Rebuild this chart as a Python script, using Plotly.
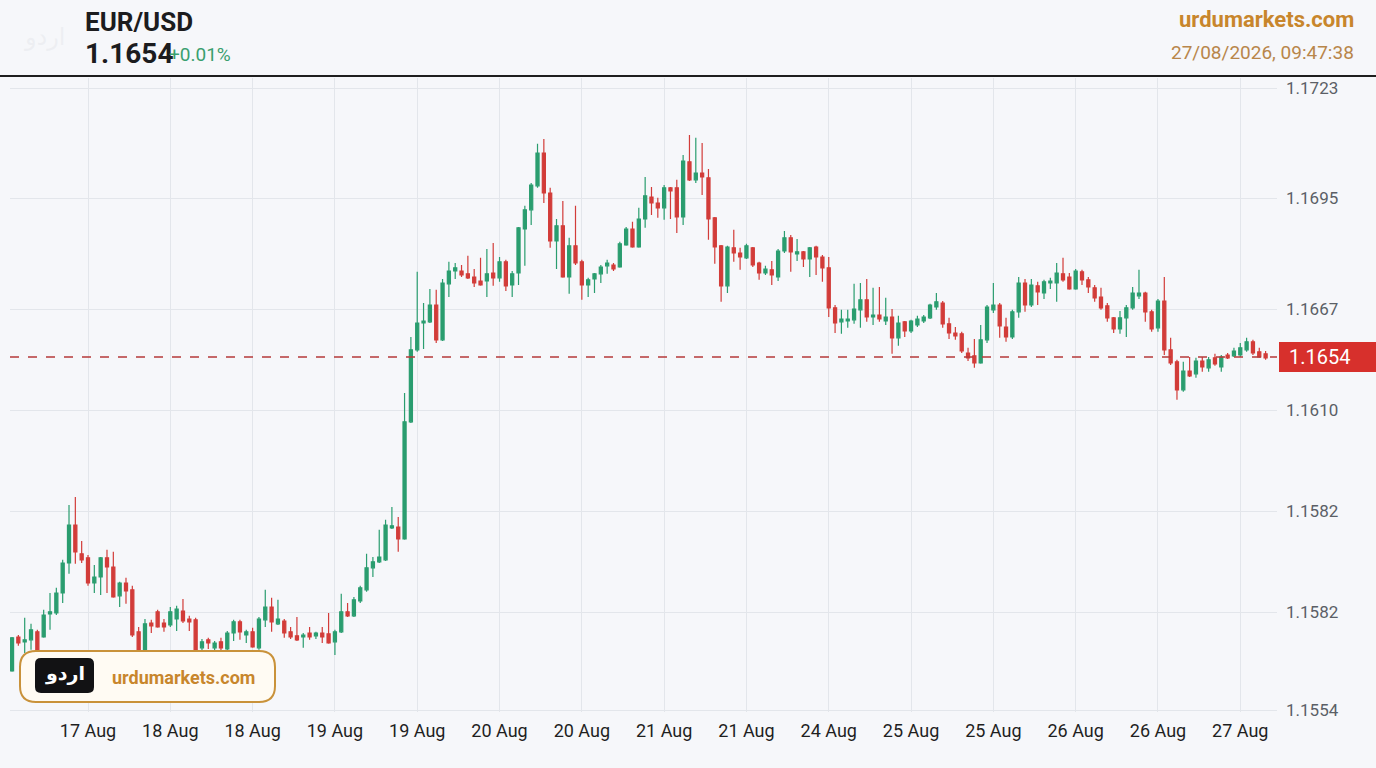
import plotly.graph_objects as go

# EUR/USD hourly candles, 17 Aug - 27 Aug
opens = [
    1.15755, 1.15840, 1.15828, 1.15833, 1.15853, 1.15840, 1.15898, 1.15900, 1.15950, 1.16025,
    1.16120, 1.16048, 1.16038, 1.15975, 1.15990, 1.16038, 1.16015, 1.15943, 1.15975, 1.15958,
    1.15853, 1.15795, 1.15875, 1.15903, 1.15875, 1.15870, 1.15885, 1.15905, 1.15885, 1.15883,
    1.15813, 1.15833, 1.15813, 1.15828, 1.15810, 1.15850, 1.15878, 1.15845, 1.15853, 1.15813,
    1.15883, 1.15915, 1.15873, 1.15880, 1.15853, 1.15843, 1.15840, 1.15850, 1.15843, 1.15850,
    1.15848, 1.15828, 1.15853, 1.15903, 1.15893, 1.15930, 1.15958, 1.16013, 1.16028, 1.16033,
    1.16113, 1.16115, 1.16085, 1.16378, 1.16558, 1.16625, 1.16628, 1.16670, 1.16583, 1.16723,
    1.16755, 1.16755, 1.16748, 1.16740, 1.16730, 1.16730, 1.16750, 1.16738, 1.16778, 1.16720,
    1.16750, 1.16860, 1.16908, 1.16968, 1.17050, 1.16950, 1.16830, 1.16868, 1.16740, 1.16818,
    1.16778, 1.16720, 1.16735, 1.16748, 1.16768, 1.16770, 1.16765, 1.16820, 1.16860, 1.16815,
    1.16885, 1.16940, 1.16925, 1.16913, 1.16963, 1.16963, 1.16890, 1.17028, 1.16983, 1.17000,
    1.16988, 1.16888, 1.16818, 1.16718, 1.16813, 1.16800, 1.16788, 1.16813, 1.16775, 1.16750,
    1.16758, 1.16740, 1.16805, 1.16838, 1.16798, 1.16803, 1.16785, 1.16815, 1.16790, 1.16763,
    1.16663, 1.16628, 1.16630, 1.16633, 1.16658, 1.16683, 1.16640, 1.16645, 1.16630, 1.16640,
    1.16588, 1.16628, 1.16605, 1.16620, 1.16630, 1.16638, 1.16665, 1.16675, 1.16623, 1.16600,
    1.16598, 1.16550, 1.16543, 1.16525, 1.16583, 1.16658, 1.16670, 1.16615, 1.16590, 1.16653,
    1.16725, 1.16670, 1.16718, 1.16700, 1.16725, 1.16725, 1.16748, 1.16740, 1.16710, 1.16753,
    1.16733, 1.16713, 1.16690, 1.16668, 1.16638, 1.16610, 1.16638, 1.16663, 1.16693, 1.16700,
    1.16653, 1.16613, 1.16680, 1.16558, 1.16528, 1.16458, 1.16505, 1.16498, 1.16530, 1.16513,
    1.16538, 1.16515, 1.16545, 1.16543, 1.16545, 1.16558, 1.16578, 1.16553, 1.16548,
]
highs = [
    1.15840, 1.15845, 1.15888, 1.15873, 1.15858, 1.15908, 1.15950, 1.15963, 1.16033, 1.16170,
    1.16190, 1.16080, 1.16045, 1.16020, 1.16040, 1.16058, 1.16053, 1.15978, 1.15988, 1.15968,
    1.15865, 1.15885, 1.15883, 1.15908, 1.15885, 1.15915, 1.15918, 1.15935, 1.15893, 1.15888,
    1.15835, 1.15838, 1.15830, 1.15838, 1.15855, 1.15883, 1.15883, 1.15858, 1.15863, 1.15890,
    1.15958, 1.15938, 1.15933, 1.15885, 1.15865, 1.15890, 1.15850, 1.15865, 1.15853, 1.15865,
    1.15900, 1.15858, 1.15948, 1.15925, 1.15940, 1.15968, 1.16048, 1.16040, 1.16108, 1.16133,
    1.16165, 1.16140, 1.16450, 1.16590, 1.16753, 1.16675, 1.16710, 1.16708, 1.16735, 1.16778,
    1.16775, 1.16770, 1.16793, 1.16760, 1.16788, 1.16810, 1.16825, 1.16790, 1.16783, 1.16755,
    1.16865, 1.16918, 1.16975, 1.17073, 1.17085, 1.16963, 1.16885, 1.16930, 1.16838, 1.16918,
    1.16783, 1.16738, 1.16750, 1.16770, 1.16783, 1.16775, 1.16828, 1.16865, 1.16878, 1.16913,
    1.16990, 1.16965, 1.16938, 1.16970, 1.16965, 1.16983, 1.17045, 1.17095, 1.17088, 1.17075,
    1.17010, 1.16890, 1.16820, 1.16818, 1.16858, 1.16813, 1.16823, 1.16815, 1.16778, 1.16768,
    1.16780, 1.16810, 1.16855, 1.16845, 1.16835, 1.16805, 1.16815, 1.16818, 1.16795, 1.16790,
    1.16670, 1.16658, 1.16658, 1.16723, 1.16725, 1.16735, 1.16713, 1.16715, 1.16688, 1.16660,
    1.16643, 1.16630, 1.16633, 1.16643, 1.16645, 1.16673, 1.16700, 1.16680, 1.16638, 1.16615,
    1.16603, 1.16563, 1.16585, 1.16620, 1.16670, 1.16725, 1.16675, 1.16638, 1.16658, 1.16740,
    1.16735, 1.16735, 1.16728, 1.16733, 1.16738, 1.16775, 1.16788, 1.16750, 1.16760, 1.16758,
    1.16740, 1.16720, 1.16713, 1.16675, 1.16640, 1.16655, 1.16670, 1.16715, 1.16758, 1.16703,
    1.16658, 1.16685, 1.16740, 1.16588, 1.16533, 1.16528, 1.16540, 1.16538, 1.16540, 1.16540,
    1.16548, 1.16545, 1.16550, 1.16563, 1.16575, 1.16588, 1.16583, 1.16563, 1.16555,
]
lows = [
    1.15753, 1.15818, 1.15800, 1.15808, 1.15783, 1.15838, 1.15858, 1.15895, 1.15925, 1.15998,
    1.16023, 1.16025, 1.15968, 1.15950, 1.15945, 1.15950, 1.15938, 1.15915, 1.15923, 1.15840,
    1.15770, 1.15783, 1.15850, 1.15863, 1.15853, 1.15865, 1.15855, 1.15875, 1.15855, 1.15778,
    1.15795, 1.15810, 1.15795, 1.15795, 1.15795, 1.15830, 1.15833, 1.15825, 1.15813, 1.15808,
    1.15865, 1.15853, 1.15870, 1.15838, 1.15835, 1.15830, 1.15813, 1.15833, 1.15835, 1.15825,
    1.15823, 1.15795, 1.15850, 1.15890, 1.15890, 1.15925, 1.15953, 1.15990, 1.16025, 1.16030,
    1.16110, 1.16053, 1.16083, 1.16375, 1.16553, 1.16560, 1.16625, 1.16575, 1.16580, 1.16690,
    1.16735, 1.16740, 1.16735, 1.16715, 1.16718, 1.16690, 1.16718, 1.16728, 1.16705, 1.16690,
    1.16720, 1.16768, 1.16870, 1.16963, 1.16925, 1.16813, 1.16760, 1.16738, 1.16698, 1.16770,
    1.16683, 1.16690, 1.16700, 1.16725, 1.16748, 1.16755, 1.16763, 1.16818, 1.16813, 1.16813,
    1.16863, 1.16895, 1.16888, 1.16883, 1.16885, 1.16850, 1.16870, 1.16980, 1.16975, 1.16945,
    1.16833, 1.16773, 1.16678, 1.16700, 1.16778, 1.16758, 1.16785, 1.16765, 1.16733, 1.16745,
    1.16720, 1.16730, 1.16800, 1.16753, 1.16780, 1.16765, 1.16740, 1.16745, 1.16728, 1.16640,
    1.16600, 1.16598, 1.16613, 1.16623, 1.16613, 1.16628, 1.16620, 1.16628, 1.16620, 1.16548,
    1.16568, 1.16590, 1.16600, 1.16615, 1.16625, 1.16635, 1.16658, 1.16613, 1.16585, 1.16583,
    1.16550, 1.16530, 1.16513, 1.16523, 1.16575, 1.16650, 1.16588, 1.16578, 1.16585, 1.16638,
    1.16653, 1.16665, 1.16670, 1.16685, 1.16710, 1.16678, 1.16728, 1.16708, 1.16708, 1.16720,
    1.16700, 1.16678, 1.16658, 1.16628, 1.16600, 1.16598, 1.16590, 1.16658, 1.16685, 1.16628,
    1.16603, 1.16603, 1.16545, 1.16520, 1.16433, 1.16453, 1.16490, 1.16488, 1.16503, 1.16503,
    1.16518, 1.16503, 1.16535, 1.16540, 1.16540, 1.16553, 1.16545, 1.16538, 1.16533,
]
closes = [
    1.15838, 1.15825, 1.15833, 1.15858, 1.15795, 1.15895, 1.15903, 1.15950, 1.16025, 1.16120,
    1.16053, 1.16033, 1.15975, 1.15990, 1.16038, 1.16015, 1.15940, 1.15975, 1.15955, 1.15845,
    1.15788, 1.15873, 1.15868, 1.15865, 1.15865, 1.15903, 1.15910, 1.15880, 1.15878, 1.15790,
    1.15828, 1.15825, 1.15825, 1.15813, 1.15850, 1.15878, 1.15853, 1.15853, 1.15815, 1.15885,
    1.15915, 1.15878, 1.15885, 1.15850, 1.15840, 1.15833, 1.15845, 1.15840, 1.15850, 1.15840,
    1.15825, 1.15853, 1.15903, 1.15893, 1.15933, 1.15963, 1.16013, 1.16028, 1.16040, 1.16120,
    1.16118, 1.16085, 1.16378, 1.16558, 1.16625, 1.16630, 1.16670, 1.16583, 1.16725, 1.16755,
    1.16763, 1.16745, 1.16738, 1.16725, 1.16720, 1.16748, 1.16738, 1.16778, 1.16718, 1.16748,
    1.16863, 1.16908, 1.16970, 1.17050, 1.16950, 1.16830, 1.16868, 1.16740, 1.16818, 1.16775,
    1.16720, 1.16733, 1.16748, 1.16765, 1.16775, 1.16760, 1.16823, 1.16860, 1.16815, 1.16885,
    1.16943, 1.16925, 1.16913, 1.16963, 1.16955, 1.16890, 1.17030, 1.16983, 1.17000, 1.16990,
    1.16885, 1.16815, 1.16718, 1.16815, 1.16800, 1.16790, 1.16818, 1.16770, 1.16750, 1.16760,
    1.16745, 1.16805, 1.16838, 1.16803, 1.16803, 1.16785, 1.16813, 1.16790, 1.16763, 1.16663,
    1.16625, 1.16635, 1.16635, 1.16660, 1.16683, 1.16640, 1.16645, 1.16635, 1.16640, 1.16588,
    1.16625, 1.16605, 1.16630, 1.16635, 1.16640, 1.16670, 1.16678, 1.16623, 1.16600, 1.16593,
    1.16555, 1.16538, 1.16525, 1.16583, 1.16665, 1.16670, 1.16618, 1.16590, 1.16653, 1.16725,
    1.16670, 1.16720, 1.16703, 1.16728, 1.16730, 1.16750, 1.16733, 1.16710, 1.16755, 1.16733,
    1.16715, 1.16688, 1.16663, 1.16638, 1.16610, 1.16638, 1.16663, 1.16700, 1.16700, 1.16653,
    1.16610, 1.16680, 1.16558, 1.16525, 1.16458, 1.16505, 1.16493, 1.16530, 1.16515, 1.16533,
    1.16523, 1.16540, 1.16538, 1.16555, 1.16563, 1.16578, 1.16550, 1.16540, 1.16538,
]

# x axis: one label every 13 candles
x_tick_pos = [12, 25, 38, 51, 64, 77, 90, 103, 116, 129, 142, 155, 168, 181, 194]
x_tick_text = ["17 Aug", "18 Aug", "18 Aug", "19 Aug", "19 Aug", "20 Aug", "20 Aug", "21 Aug",
               "21 Aug", "24 Aug", "25 Aug", "25 Aug", "26 Aug", "26 Aug", "27 Aug"]

# y axis labels as printed on the chart
y_tick_pos = [1.172125, 1.169375, 1.1666, 1.164075, 1.16155, 1.159025, 1.156575]
y_tick_text = ["1.1723", "1.1695", "1.1667", "1.1610", "1.1582", "1.1582", "1.1554"]

symbol = "EUR/USD"
last_price = 1.1654
change_text = "+0.01%"
site = "urdumarkets.com"
stamp = "27/08/2026, 09:47:38"

W, H = 1376, 768
L, R, T, B = 10, 1277, 78, 712   # plot area in pixels

GREEN = "#2a9d6f"
RED = "#d23c39"
ORANGE = "#c8862c"
BG = "#f6f7fa"
FONT = "Roboto"


def px_x(x):
    return (x - L) / (R - L)


def px_y(y):
    return (B - y) / (B - T)


def rounded_rect(x0, y0, x1, y1, r):
    # svg path in paper coords, corners rounded with quadratic curves
    pts = [
        ("M", x0 + r, y0), ("L", x1 - r, y0), ("Q", x1, y0, x1, y0 + r),
        ("L", x1, y1 - r), ("Q", x1, y1, x1 - r, y1), ("L", x0 + r, y1),
        ("Q", x0, y1, x0, y1 - r), ("L", x0, y0 + r), ("Q", x0, y0, x0 + r, y0),
    ]
    out = []
    for p in pts:
        cmd, vals = p[0], p[1:]
        coords = []
        for i in range(0, len(vals), 2):
            coords.append(f"{px_x(vals[i]):.5f},{px_y(vals[i + 1]):.5f}")
        out.append(cmd + " ".join(coords))
    return " ".join(out) + " Z"


fig = go.Figure(go.Candlestick(
    x=list(range(len(opens))),
    open=opens, high=highs, low=lows, close=closes,
    increasing=dict(line=dict(color=GREEN, width=1.2), fillcolor=GREEN),
    decreasing=dict(line=dict(color=RED, width=1.2), fillcolor=RED),
    whiskerwidth=0,
    hoverinfo="skip",
))

fig.update_layout(
    width=W, height=H,
    margin=dict(l=L, r=W - R, t=T, b=H - B),
    paper_bgcolor=BG, plot_bgcolor=BG,
    showlegend=False,
    font=dict(family=FONT),
    xaxis=dict(
        range=[-0.32, 199.8],
        rangeslider=dict(visible=False),
        tickmode="array", tickvals=x_tick_pos, ticktext=x_tick_text,
        tickfont=dict(size=18, color="#1f1f1f"),
        showgrid=True, gridcolor="#e3e6eb", gridwidth=1,
        zeroline=False, showline=False, ticks="",
        ticklabelstandoff=6,
    ),
    yaxis=dict(
        side="right",
        range=[1.156525, 1.172375],
        tickmode="array", tickvals=y_tick_pos, ticktext=y_tick_text,
        tickfont=dict(size=17, color="#5b5f66"),
        showgrid=True, gridcolor="#e3e6eb", gridwidth=1,
        zeroline=False, showline=False, ticks="",
        ticklabelstandoff=8,
    ),
)

# current price dashed line
fig.add_shape(type="line", xref="paper", x0=0, x1=1, yref="y", y0=last_price, y1=last_price,
              line=dict(color="#b53a3a", width=1.5, dash="dash"), layer="above")

# price tag on the right
fig.add_shape(type="rect", xref="paper", yref="paper",
              x0=px_x(1279), x1=px_x(1378), y0=px_y(372), y1=px_y(342),
              fillcolor="#d7302c", line=dict(width=0), layer="above")
fig.add_annotation(xref="paper", yref="paper", x=px_x(1287), y=px_y(357),
                   xanchor="left", yanchor="middle", showarrow=False,
                   text=f"{last_price:.4f}", font=dict(size=20, color="white", family=FONT))

# header separator
fig.add_shape(type="line", xref="paper", yref="paper",
              x0=px_x(0), x1=px_x(W), y0=px_y(76), y1=px_y(76),
              line=dict(color="#1e1e1e", width=2))

# header texts
fig.add_annotation(xref="paper", yref="paper", x=px_x(45), y=px_y(37),
                   xanchor="center", yanchor="middle", showarrow=False,
                   text="اردو", font=dict(size=24, color="rgba(220,223,228,0.35)", family="DejaVu Sans"))
fig.add_annotation(xref="paper", yref="paper", x=px_x(83), y=px_y(22),
                   xanchor="left", yanchor="middle", showarrow=False,
                   text=f"<b>{symbol}</b>", font=dict(size=26, color="#1c1c1e", family=FONT))
fig.add_annotation(xref="paper", yref="paper", x=px_x(83), y=px_y(53),
                   xanchor="left", yanchor="middle", showarrow=False,
                   text=f"<b>{last_price:.4f}</b>", font=dict(size=28, color="#1c1c1e", family=FONT))
fig.add_annotation(xref="paper", yref="paper", x=px_x(167), y=px_y(54),
                   xanchor="left", yanchor="middle", showarrow=False,
                   text=change_text, font=dict(size=19, color="#3a9f6f", family=FONT))
fig.add_annotation(xref="paper", yref="paper", x=px_x(1356), y=px_y(20),
                   xanchor="right", yanchor="middle", showarrow=False,
                   text=f"<b>{site}</b>", font=dict(size=22, color=ORANGE, family=FONT))
fig.add_annotation(xref="paper", yref="paper", x=px_x(1356), y=px_y(52),
                   xanchor="right", yanchor="middle", showarrow=False,
                   text=stamp, font=dict(size=19, color="#b8864a", family=FONT))

# logo badge bottom-left
fig.add_shape(type="path", xref="paper", yref="paper", layer="above",
              path=rounded_rect(20, 651, 275, 702, 16),
              fillcolor="#fffbf3", line=dict(color="#c9923a", width=2))
fig.add_shape(type="path", xref="paper", yref="paper", layer="above",
              path=rounded_rect(35, 658, 94, 693, 6),
              fillcolor="#121214", line=dict(width=0))
fig.add_annotation(xref="paper", yref="paper", x=px_x(64.5), y=px_y(673),
                   xanchor="center", yanchor="middle", showarrow=False,
                   text="<b>اردو</b>", font=dict(size=19, color="white", family="DejaVu Sans"))
fig.add_annotation(xref="paper", yref="paper", x=px_x(183), y=px_y(677),
                   xanchor="center", yanchor="middle", showarrow=False,
                   text=f"<b>{site}</b>", font=dict(size=18, color=ORANGE, family=FONT))

# page has a default body margin; drop it so the figure fills the window
fig.write_html("out.html", config={"displayModeBar": False},
               post_script="document.body.style.margin='0';")
